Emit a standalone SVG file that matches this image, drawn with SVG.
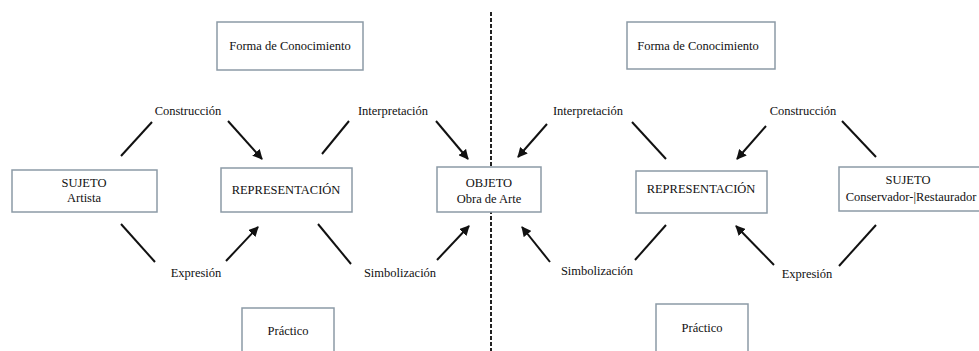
<svg xmlns="http://www.w3.org/2000/svg" width="979" height="351" viewBox="0 0 979 351">
<defs>
<marker id="ah" viewBox="0 0 10 10" refX="9" refY="5" markerWidth="5" markerHeight="5" orient="auto" markerUnits="strokeWidth">
<path d="M0,0 L10,5 L0,10 z" fill="#111"/>
</marker>
<style>
.box{fill:#fff;stroke:#8c9aa6;stroke-width:1.5}
text{font-family:'Liberation Serif','Times New Roman','DejaVu Serif',serif;font-size:12.5px;fill:#111;text-anchor:middle}
.ln{stroke:#111;stroke-width:2;fill:none}
.ar{stroke:#111;stroke-width:2;fill:none;marker-end:url(#ah)}
</style>
</defs>
<rect width="979" height="351" fill="#fff"/>
<line x1="491" y1="12" x2="491" y2="351" stroke="#222" stroke-width="2" stroke-dasharray="4 2"/>
<g id="connectors">
<line class="ln" x1="152" y1="122" x2="121" y2="156"/>
<line class="ar" x1="228" y1="121" x2="262" y2="159"/>
<line class="ln" x1="349" y1="121" x2="322" y2="154"/>
<line class="ar" x1="436" y1="121" x2="468" y2="159"/>
<line class="ln" x1="121" y1="224" x2="155" y2="262"/>
<line class="ar" x1="226" y1="261" x2="258" y2="227"/>
<line class="ln" x1="318" y1="224" x2="351" y2="264"/>
<line class="ar" x1="437" y1="260" x2="469" y2="226"/>
<line class="ar" x1="547" y1="124" x2="518" y2="157"/>
<line class="ln" x1="632" y1="122" x2="666" y2="159"/>
<line class="ar" x1="766" y1="126" x2="737" y2="159"/>
<line class="ln" x1="842" y1="121" x2="876" y2="157"/>
<line class="ar" x1="550" y1="262" x2="522" y2="227"/>
<line class="ln" x1="635" y1="260" x2="666" y2="225"/>
<line class="ar" x1="774" y1="265" x2="736" y2="226"/>
<line class="ln" x1="839" y1="266" x2="876" y2="225"/>
<text x="188" y="115">Construcción</text>
<text x="393" y="115">Interpretación</text>
<text x="196" y="277">Expresión</text>
<text x="400" y="277">Simbolización</text>
<text x="588" y="115">Interpretación</text>
<text x="803" y="115">Construcción</text>
<text x="597" y="275">Simbolización</text>
<text x="807" y="278">Expresión</text>
</g>
<g id="forma-left"><rect class="box" x="217" y="22" width="146" height="48"/><text x="290" y="50">Forma de Conocimiento</text></g>
<g id="forma-right"><rect class="box" x="627" y="22" width="148" height="47"/><text x="698" y="50">Forma de Conocimiento</text></g>
<g id="sujeto-left"><rect class="box" x="12" y="170" width="145" height="42"/><text x="84" y="187">SUJETO</text><text x="84" y="202">Artista</text></g>
<g id="rep-left"><rect class="box" x="221" y="168" width="131" height="44"/><text x="286" y="194">REPRESENTACIÓN</text></g>
<g id="objeto"><rect class="box" x="437" y="167" width="104" height="45"/><text x="489" y="187">OBJETO</text><text x="489" y="203">Obra de Arte</text></g>
<g id="rep-right"><rect class="box" x="636" y="171" width="131" height="42"/><text x="701" y="193">REPRESENTACIÓN</text></g>
<g id="sujeto-right"><rect class="box" x="839" y="167" width="150" height="44"/><text x="908" y="184">SUJETO</text><text x="911" y="201">Conservador-|Restaurador</text></g>
<g id="practico-left"><rect class="box" x="242" y="308" width="92" height="60"/><text x="288" y="335">Práctico</text></g>
<g id="practico-right"><rect class="box" x="656" y="304" width="92" height="60"/><text x="702" y="332">Práctico</text></g>
</svg>
